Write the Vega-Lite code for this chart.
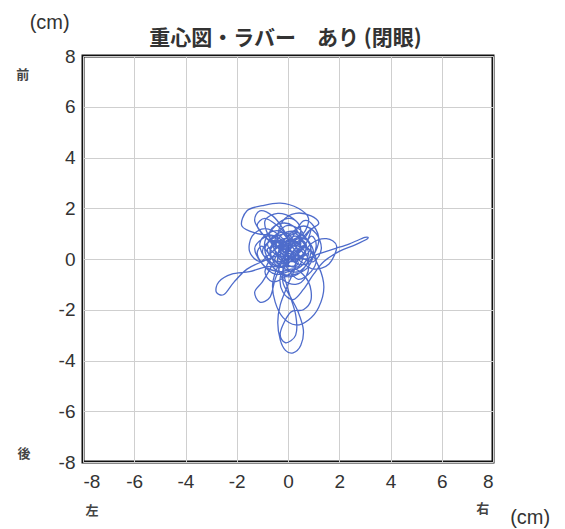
{
  "$schema": "https://vega.github.io/schema/vega-lite/v6.json",
  "width": 410,
  "height": 406,
  "autosize": "none",
  "padding": {"left": 83, "top": 56, "right": 72, "bottom": 67},
  "background": "white",
  "config": {
    "view": {"stroke": "#111", "strokeWidth": 3},
    "axis": {"grid": true, "gridColor": "#cfcfcf", "gridWidth": 1, "ticks": false, "domain": false, "labelFont": "Liberation Sans", "labelFontSize": 19, "labelColor": "#333", "title": null, "labelExpr": "replace(datum.label, '−', '-')"}
  },
  "layer": [
    {
      "data": {"values": [
        {"i":1,"x":0,"y":0},{"i":2,"x":0.3,"y":0.4},{"i":3,"x":0.6,"y":0.2},{"i":4,"x":0.4,"y":-0.3},{"i":5,"x":-0.1,"y":-0.2},
        {"i":6,"x":-0.5,"y":0.3},{"i":7,"x":-0.3,"y":0.9},{"i":8,"x":0.2,"y":1.1},{"i":9,"x":0.7,"y":0.8},{"i":10,"x":0.9,"y":0.3},
        {"i":11,"x":0.6,"y":-0.4},{"i":12,"x":0.1,"y":-0.7},{"i":13,"x":-0.4,"y":-0.5},{"i":14,"x":-0.8,"y":0},{"i":15,"x":-0.9,"y":0.7},
        {"i":16,"x":-0.5,"y":1.3},{"i":17,"x":0,"y":1.6},{"i":18,"x":0.4,"y":1.4},{"i":19,"x":0.5,"y":0.9},{"i":20,"x":0.2,"y":0.5},
        {"i":21,"x":-0.2,"y":0.4},{"i":22,"x":-0.6,"y":0.6},{"i":23,"x":-1.0,"y":1.0},{"i":24,"x":-1.3,"y":1.5},{"i":25,"x":-1.1,"y":1.9},
        {"i":26,"x":-0.6,"y":1.7},{"i":27,"x":-0.2,"y":1.2},{"i":28,"x":0.1,"y":0.6},{"i":29,"x":0.5,"y":0.1},{"i":30,"x":1.0,"y":-0.1},
        {"i":31,"x":1.3,"y":0.4},{"i":32,"x":1.1,"y":1.0},{"i":33,"x":0.6,"y":1.3},{"i":34,"x":0.1,"y":1.0},{"i":35,"x":-0.3,"y":0.5},
        {"i":36,"x":-0.4,"y":-0.1},{"i":37,"x":-0.2,"y":-0.8},{"i":38,"x":0.3,"y":-1.0},{"i":39,"x":0.7,"y":-0.7},{"i":40,"x":0.8,"y":-0.1},
        {"i":41,"x":0.5,"y":0.5},{"i":42,"x":0.0,"y":0.7},{"i":43,"x":-0.6,"y":0.3},{"i":44,"x":-1.1,"y":-0.1},{"i":45,"x":-1.5,"y":0.3},
        {"i":46,"x":-1.4,"y":0.9},{"i":47,"x":-0.9,"y":1.2},{"i":48,"x":-0.3,"y":0.9},{"i":49,"x":0.2,"y":0.2},{"i":50,"x":0.4,"y":-0.2},
        {"i":51,"x":0.0,"y":-0.3},{"i":52,"x":-0.8,"y":-0.3},{"i":53,"x":-1.5,"y":-0.5},{"i":54,"x":-2.2,"y":-0.6},{"i":55,"x":-2.7,"y":-0.9},
        {"i":56,"x":-2.8,"y":-1.3},{"i":57,"x":-2.5,"y":-1.4},{"i":58,"x":-2.1,"y":-0.9},{"i":59,"x":-1.6,"y":-0.4},{"i":60,"x":-1.0,"y":-0.1},
        {"i":61,"x":-0.5,"y":0.1},{"i":62,"x":0.1,"y":0.3},{"i":63,"x":0.6,"y":0.0},{"i":64,"x":1.2,"y":0.2},{"i":65,"x":1.8,"y":0.4},
        {"i":66,"x":2.4,"y":0.6},{"i":67,"x":3.0,"y":0.85},{"i":68,"x":3.1,"y":0.8},{"i":69,"x":2.6,"y":0.55},{"i":70,"x":2.0,"y":0.3},
        {"i":71,"x":1.4,"y":-0.1},{"i":72,"x":1.0,"y":-0.6},{"i":73,"x":0.6,"y":-1.2},{"i":74,"x":0.2,"y":-1.6},{"i":75,"x":-0.2,"y":-1.3},
        {"i":76,"x":-0.3,"y":-0.7},{"i":77,"x":0.0,"y":-0.1},{"i":78,"x":0.4,"y":0.6},{"i":79,"x":0.8,"y":1.1},{"i":80,"x":1.2,"y":1.4},
        {"i":81,"x":0.9,"y":1.7},{"i":82,"x":0.3,"y":1.8},{"i":83,"x":-0.2,"y":1.5},{"i":84,"x":-0.4,"y":0.8},{"i":85,"x":-0.1,"y":0.2},
        {"i":86,"x":0.3,"y":-0.2},{"i":87,"x":0.0,"y":-1.0},{"i":88,"x":-0.3,"y":-1.8},{"i":89,"x":-0.4,"y":-2.5},{"i":90,"x":-0.3,"y":-3.2},
        {"i":91,"x":-0.1,"y":-3.6},{"i":92,"x":0.2,"y":-3.7},{"i":93,"x":0.5,"y":-3.4},{"i":94,"x":0.6,"y":-2.8},{"i":95,"x":0.4,"y":-2.1},
        {"i":96,"x":0.1,"y":-1.5},{"i":97,"x":-0.2,"y":-0.9},{"i":98,"x":-0.1,"y":-0.2},{"i":99,"x":0.3,"y":0.3},{"i":100,"x":0.7,"y":0.5},
        {"i":101,"x":1.2,"y":-0.3},{"i":102,"x":1.4,"y":-1.1},{"i":103,"x":1.2,"y":-1.9},{"i":104,"x":0.8,"y":-2.4},{"i":105,"x":0.3,"y":-2.6},
        {"i":106,"x":-0.2,"y":-2.3},{"i":107,"x":-0.5,"y":-1.7},{"i":108,"x":-0.6,"y":-1.0},{"i":109,"x":-0.4,"y":-0.3},{"i":110,"x":0.0,"y":0.4},
        {"i":111,"x":-0.5,"y":0.9},{"i":112,"x":-1.2,"y":1.0},{"i":113,"x":-1.8,"y":1.3},{"i":114,"x":-1.6,"y":1.9},{"i":115,"x":-1.0,"y":2.1},
        {"i":116,"x":-0.3,"y":2.2},{"i":117,"x":0.4,"y":2.0},{"i":118,"x":0.8,"y":1.6},{"i":119,"x":0.6,"y":1.0},{"i":120,"x":0.1,"y":0.7},
        {"i":121,"x":-0.4,"y":0.2},{"i":122,"x":-0.7,"y":-0.4},{"i":123,"x":-1.0,"y":-0.9},{"i":124,"x":-1.3,"y":-1.3},{"i":125,"x":-1.1,"y":-1.7},
        {"i":126,"x":-0.7,"y":-1.5},{"i":127,"x":-0.5,"y":-0.8},{"i":128,"x":-0.2,"y":0.0},{"i":129,"x":0.2,"y":0.9},{"i":130,"x":0.6,"y":1.5},
        {"i":131,"x":1.0,"y":1.3},{"i":132,"x":1.2,"y":0.7},{"i":133,"x":0.9,"y":0.0},{"i":134,"x":0.4,"y":-0.5},{"i":135,"x":-0.1,"y":-0.4},
        {"i":136,"x":-0.6,"y":0.0},{"i":137,"x":-1.0,"y":0.5},{"i":138,"x":-1.2,"y":0.2},{"i":139,"x":-0.9,"y":-0.3},{"i":140,"x":-0.3,"y":-0.5},
        {"i":141,"x":0.3,"y":-0.4},{"i":142,"x":0.8,"y":-0.9},{"i":143,"x":0.9,"y":-1.6},{"i":144,"x":0.6,"y":-2.0},{"i":145,"x":0.1,"y":-2.1},
        {"i":146,"x":-0.3,"y":-2.9},{"i":147,"x":-0.1,"y":-3.3},{"i":148,"x":0.3,"y":-3.0},{"i":149,"x":0.3,"y":-2.2},{"i":150,"x":0.0,"y":-1.2},
        {"i":151,"x":-0.2,"y":-0.3},{"i":152,"x":0.1,"y":0.5},{"i":153,"x":0.5,"y":1.1},{"i":154,"x":0.2,"y":1.6},{"i":155,"x":-0.4,"y":1.8},
        {"i":156,"x":-0.9,"y":1.5},{"i":157,"x":-0.7,"y":0.8},{"i":158,"x":-0.2,"y":0.3},{"i":159,"x":0.4,"y":0.0},{"i":160,"x":0.9,"y":0.6},
        {"i":161,"x":1.5,"y":0.8},{"i":162,"x":1.9,"y":0.5},{"i":163,"x":1.6,"y":-0.2},{"i":164,"x":1.0,"y":-0.4},{"i":165,"x":0.5,"y":-0.1},
        {"i":166,"x":0.1,"y":0.1},{"i":167,"x":-0.3,"y":-0.2},{"i":168,"x":-0.7,"y":0.2},{"i":169,"x":-0.5,"y":0.6},{"i":170,"x":0.0,"y":0.8},
        {"i":171,"x":0.4,"y":0.3},{"i":172,"x":0.2,"y":-0.3},{"i":173,"x":-0.3,"y":0.1},{"i":174,"x":-0.1,"y":0.6},{"i":175,"x":0.3,"y":0.9},
        {"i":176,"x":0.7,"y":0.4},{"i":177,"x":0.3,"y":0.0},{"i":178,"x":-0.2,"y":0.2},{"i":179,"x":0.1,"y":0.4},
        {"i":180,"x":-0.4,"y":0.5},{"i":181,"x":-0.8,"y":0.4},{"i":182,"x":-0.6,"y":0.0},{"i":183,"x":-0.2,"y":-0.1},{"i":184,"x":0.2,"y":0.1},
        {"i":185,"x":0.5,"y":0.6},{"i":186,"x":0.3,"y":1.0},{"i":187,"x":-0.1,"y":0.8},{"i":188,"x":-0.5,"y":0.4},{"i":189,"x":-0.9,"y":0.1},
        {"i":190,"x":-1.1,"y":0.6},{"i":191,"x":-0.8,"y":1.0},{"i":192,"x":-0.3,"y":1.1},{"i":193,"x":0.1,"y":0.7},{"i":194,"x":0.6,"y":0.8},
        {"i":195,"x":0.9,"y":1.2},{"i":196,"x":0.7,"y":0.6},{"i":197,"x":0.3,"y":0.2},{"i":198,"x":-0.1,"y":-0.3},{"i":199,"x":-0.5,"y":-0.2},
        {"i":200,"x":-0.7,"y":0.4},{"i":201,"x":-0.4,"y":0.7},{"i":202,"x":0.0,"y":0.5},{"i":203,"x":0.4,"y":0.8},{"i":204,"x":0.8,"y":0.7},
        {"i":205,"x":1.0,"y":0.2},{"i":206,"x":0.7,"y":-0.2},{"i":207,"x":0.2,"y":-0.1},{"i":208,"x":-0.2,"y":0.5},{"i":209,"x":-0.6,"y":0.9},
        {"i":210,"x":-1.0,"y":0.8},{"i":211,"x":-1.3,"y":0.4},{"i":212,"x":-1.0,"y":-0.2},{"i":213,"x":-0.5,"y":-0.6},{"i":214,"x":0.0,"y":-0.5},
        {"i":215,"x":0.5,"y":-0.3},{"i":216,"x":0.8,"y":0.2},{"i":217,"x":0.6,"y":0.7},{"i":218,"x":0.2,"y":1.3},{"i":219,"x":-0.3,"y":1.4},
        {"i":220,"x":-0.7,"y":1.1},{"i":221,"x":-0.6,"y":0.5},{"i":222,"x":-0.2,"y":0.1},{"i":223,"x":0.2,"y":0.6},{"i":224,"x":0.0,"y":1.0},
        {"i":225,"x":-0.4,"y":1.0},{"i":226,"x":-0.8,"y":0.6},{"i":227,"x":-0.5,"y":0.2},{"i":228,"x":0.0,"y":0.0},{"i":229,"x":0.5,"y":0.3},
        {"i":230,"x":0.9,"y":0.9},{"i":231,"x":1.1,"y":0.5},{"i":232,"x":0.8,"y":-0.3},{"i":233,"x":0.3,"y":-0.6},{"i":234,"x":-0.2,"y":-0.6},
        {"i":235,"x":-0.7,"y":-0.2},{"i":236,"x":-1.0,"y":0.3},{"i":237,"x":-0.7,"y":0.7},{"i":238,"x":-0.2,"y":0.7},{"i":239,"x":0.3,"y":0.5},
        {"i":240,"x":0.6,"y":0.9},{"i":241,"x":0.4,"y":1.2},{"i":242,"x":-0.1,"y":1.3},{"i":243,"x":-0.5,"y":0.8},{"i":244,"x":-0.3,"y":0.3},
        {"i":245,"x":0.1,"y":-0.1},{"i":246,"x":0.6,"y":0.1},{"i":247,"x":0.7,"y":0.6},{"i":248,"x":0.3,"y":0.8},{"i":249,"x":-0.1,"y":0.4},
        {"i":250,"x":-0.6,"y":0.1},{"i":251,"x":-0.9,"y":-0.5},{"i":252,"x":-0.6,"y":-0.9},{"i":253,"x":-0.1,"y":-0.7},{"i":254,"x":0.3,"y":-0.3},
        {"i":255,"x":0.1,"y":0.3},{"i":256,"x":-0.3,"y":0.6},{"i":257,"x":-0.8,"y":0.8},{"i":258,"x":-1.2,"y":1.3},{"i":259,"x":-0.9,"y":1.6},
        {"i":260,"x":-0.4,"y":1.3},{"i":261,"x":0.0,"y":0.9},{"i":262,"x":0.4,"y":0.5},{"i":263,"x":0.8,"y":0.4},{"i":264,"x":1.1,"y":0.0},
        {"i":265,"x":0.9,"y":-0.5},{"i":266,"x":0.4,"y":-0.8},{"i":267,"x":0.0,"y":-0.4},{"i":268,"x":-0.3,"y":0.2},{"i":269,"x":-0.1,"y":0.7},
        {"i":270,"x":0.3,"y":0.7},{"i":271,"x":0.5,"y":0.4},{"i":272,"x":0.2,"y":0.0},{"i":273,"x":-0.3,"y":-0.3},{"i":274,"x":-0.7,"y":-0.1},
        {"i":275,"x":-0.9,"y":0.4},{"i":276,"x":-0.6,"y":0.8},{"i":277,"x":-0.1,"y":1.0},{"i":278,"x":0.5,"y":1.0},{"i":279,"x":0.9,"y":0.5},
        {"i":280,"x":0.6,"y":0.1},{"i":281,"x":0.1,"y":0.2},{"i":282,"x":-0.3,"y":0.4},{"i":283,"x":0.0,"y":0.6},{"i":284,"x":0.3,"y":0.3}
      ]},
      "mark": {"type": "line", "color": "#2f52c2", "strokeWidth": 1.3, "opacity": 0.85, "interpolate": "cardinal"},
      "encoding": {
        "x": {"field": "x", "type": "quantitative", "scale": {"domain": [-8, 8], "nice": false}, "axis": {"values": [-8,-6,-4,-2,0,2,4,6,8], "labelPadding": 10}},
        "y": {"field": "y", "type": "quantitative", "scale": {"domain": [-8, 8], "nice": false}, "axis": {"values": [-8,-6,-4,-2,0,2,4,6,8], "labelPadding": 8}},
        "order": {"field": "i", "type": "quantitative"}
      }
    },
    {
      "data": {"values": [
        {"x": -9.3, "y": 9.3, "t": "(cm)"},
        {"x": 9.45, "y": -10.2, "t": "(cm)"}
      ]},
      "mark": {"type": "text", "font": "Liberation Sans", "fontSize": 20, "color": "#333", "baseline": "middle", "clip": false},
      "encoding": {
        "x": {"field": "x", "type": "quantitative"},
        "y": {"field": "y", "type": "quantitative"},
        "text": {"field": "t"}
      }
    },
    {
      "data": {"values": [
        {"x": -0.1, "y": 8.66, "t": "重心図・ラバー　あり (閉眼)"}
      ]},
      "mark": {"type": "text", "font": "Noto Sans CJK JP", "fontSize": 21, "fontWeight": "bold", "color": "#333", "baseline": "middle", "clip": false},
      "encoding": {
        "x": {"field": "x", "type": "quantitative"},
        "y": {"field": "y", "type": "quantitative"},
        "text": {"field": "t"}
      }
    },
    {
      "data": {"values": [
        {"x": -10.35, "y": 7.25, "t": "前"},
        {"x": -10.3, "y": -7.7, "t": "後"},
        {"x": -7.65, "y": -9.95, "t": "左"},
        {"x": 7.6, "y": -9.85, "t": "右"}
      ]},
      "mark": {"type": "text", "font": "Noto Sans CJK JP", "fontSize": 13, "fontWeight": "bold", "color": "#444", "baseline": "middle", "clip": false},
      "encoding": {
        "x": {"field": "x", "type": "quantitative"},
        "y": {"field": "y", "type": "quantitative"},
        "text": {"field": "t"}
      }
    }
  ]
}
